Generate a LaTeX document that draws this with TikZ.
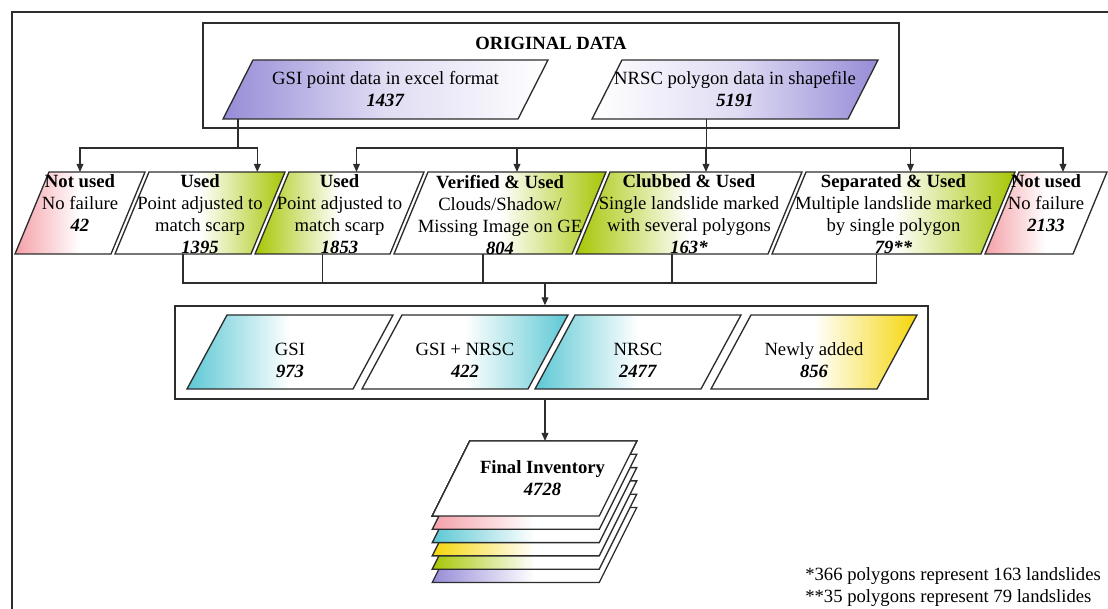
\documentclass[tikz,border=0pt]{standalone}
\usepackage{fontspec}
\setmainfont{Liberation Serif}
\usetikzlibrary{arrows.meta, positioning, calc}
\definecolor{edge}{RGB}{45,45,45}
\definecolor{lavend}{RGB}{150,140,215}
\definecolor{lime}{RGB}{166,198,4}
\definecolor{rose}{RGB}{244,160,168}
\definecolor{aqua}{RGB}{92,200,212}
\definecolor{gold}{RGB}{245,214,10}
\newcommand\tally[1]{\textbf{\textit{#1}}}
% \para{name}{cx}{cy}{top width}{height}{slant}{fill}, sizes in px
\newcommand\para[7]{%
  \shade[#7, draw=edge, line width=1pt]
    ({#2-#4/2+#6/2}, {#3-#5/2}) -- ({#2+#4/2+#6/2}, {#3-#5/2})
    -- ({#2+#4/2-#6/2}, {#3+#5/2}) -- ({#2-#4/2-#6/2}, {#3+#5/2}) -- cycle;
  \node[inner sep=0pt, outer sep=0pt, minimum width=#4*0.75pt, minimum height=#5*0.75pt] (#1) at ({#2},{#3}) {};
  \coordinate (#1-top) at ({#2+#6/2}, {#3-#5/2});
  \coordinate (#1-bot) at ({#2-#6/2}, {#3+#5/2});
}
\tikzset{
  fadeL/.style={left color=#1, right color=white, middle color=white},
  fadeR/.style={left color=white, right color=#1, middle color=white},
  txt/.style={align=center, inner sep=0pt},
  frame/.style={draw=edge, line width=1pt, inner sep=0pt},
  line/.style={draw=edge, line width=1pt},
  arr/.style={line, -{Triangle[length=6pt, width=5pt]}},
}

\begin{document}
\begin{tikzpicture}[x=0.75pt, y=-0.75pt, every node/.style={font=\fontsize{14}{16.5}\selectfont}]
\useasboundingbox (0,0) rectangle (1108,609);
\draw[line] (12,12) rectangle (1140,640);

% original data
\node[frame, minimum width=522pt, minimum height=78.75pt] (orig) at (551,75.5) {};
\node[txt] (origt) at (551,43) {\textbf{ORIGINAL DATA}};
\para{gsi}{385.5}{89.5}{295}{59}{30}{left color=lavend, right color=white, middle color=lavend!30}
\para{nrsc}{735}{89.5}{256}{59}{30}{left color=white, right color=lavend, middle color=lavend!30}
\node[txt] (gsit) at (gsi) {GSI point data in excel format\\\tally{1437}};
\node[txt] (nrsct) at (nrsc) {NRSC polygon data in shapefile\\\tally{5191}};

% checked records
\para{nu1}{80}{213}{96}{82}{34}{fadeL=rose}
\para{us1}{200}{213}{136}{82}{34}{fadeR=lime}
\para{us2}{339.5}{213}{135}{82}{34}{fadeL=lime}
\para{ver}{500}{213}{178}{82}{34}{fadeR=lime}
\para{clb}{689}{213}{192}{82}{34}{fadeL=lime}
\para{sep}{893.5}{213}{209}{82}{34}{fadeR=lime}
\para{nu2}{1046}{213}{88}{82}{34}{fadeL=rose}
\node[txt, anchor=north] (nu1t) at ([yshift=-2pt]nu1.north) {\textbf{Not used}\\No failure\\\tally{42}};
\node[txt, anchor=north] (us1t) at ([yshift=-2pt]us1.north) {\textbf{Used}\\Point adjusted to\\match scarp\\\tally{1395}};
\node[txt, anchor=north] (us2t) at ([yshift=-2pt]us2.north) {\textbf{Used}\\Point adjusted to\\match scarp\\\tally{1853}};
\node[txt, anchor=north] (vert) at ([yshift=-2pt]ver.north) {\textbf{Verified \& Used}\\Clouds/Shadow/\\Missing Image on GE\\\tally{804}};
\node[txt, anchor=north] (clbt) at ([yshift=-2pt]clb.north) {\textbf{Clubbed \& Used}\\Single landslide marked\\with several polygons\\\tally{163*}};
\node[txt, anchor=north] (sept) at ([yshift=-2pt]sep.north) {\textbf{Separated \& Used}\\Multiple landslide marked\\by single polygon\\\tally{79**}};
\node[txt, anchor=north] (nu2t) at ([yshift=-2pt]nu2.north) {\textbf{Not used}\\No failure\\\tally{2133}};

% merged sources
\node[frame, minimum width=564.75pt, minimum height=69.75pt] (mid) at (551.5,352.5) {};
\para{gsi2}{290}{352}{166}{74}{40}{fadeL=aqua}
\para{both}{465}{352}{166}{74}{40}{fadeR=aqua}
\para{nrsc2}{638}{352}{166}{74}{40}{fadeL=aqua}
\para{added}{814}{352}{166}{74}{40}{fadeR=gold}
\node[txt] (gsi2t) at ([yshift=-6pt]gsi2.center) {GSI\\\tally{973}};
\node[txt] (botht) at ([yshift=-6pt]both.center) {GSI + NRSC\\\tally{422}};
\node[txt] (nrsc2t) at ([yshift=-6pt]nrsc2.center) {NRSC\\\tally{2477}};
\node[txt] (addedt) at ([yshift=-6pt]added.center) {Newly added\\\tally{856}};

% final inventory stack
\foreach \c [count=\k] in {lavend, lime, gold, aqua, rose}
  \para{lay\k}{534.5}{478.5+13.3*(6-\k)}{167}{75}{37.5}{fadeL=\c}
\para{fin}{534.5}{478.5}{167}{75}{37.5}{fadeL=white}
\node[txt] (fint) at ([xshift=6pt]fin.center) {\textbf{Final Inventory}\\\tally{4728}};

\node[txt, align=left, anchor=north west] (note) at (805,567) {*366 polygons represent 163 landslides\\**35 polygons represent 79 landslides};

% connectors
\coordinate (forkA) at (0,148);
\coordinate (merge) at (545,283);
\coordinate (gdn) at (gsi.south west);
\coordinate (ndn) at ([xshift=-10pt]nrsc-bot);
\draw[line] (gdn) -- (gdn |- forkA);
\draw[arr] (gdn |- forkA) -| (nu1.north);
\draw[arr] (gdn |- forkA) -| ([xshift=-8pt]us1.north east);
\draw[line] (ndn) -- (ndn |- forkA);
\foreach \b in {us2, ver, clb, sep, nu2}
  \draw[arr] (ndn |- forkA) -| (\b-top);
\foreach \b in {us1, us2, ver, clb, sep}
  \draw[line] (\b-bot) |- (merge);
\draw[arr] (merge) -- (merge |- mid.north);
\draw[arr] (merge |- mid.south) -- (merge |- fin.north);
\end{tikzpicture}
\end{document}
